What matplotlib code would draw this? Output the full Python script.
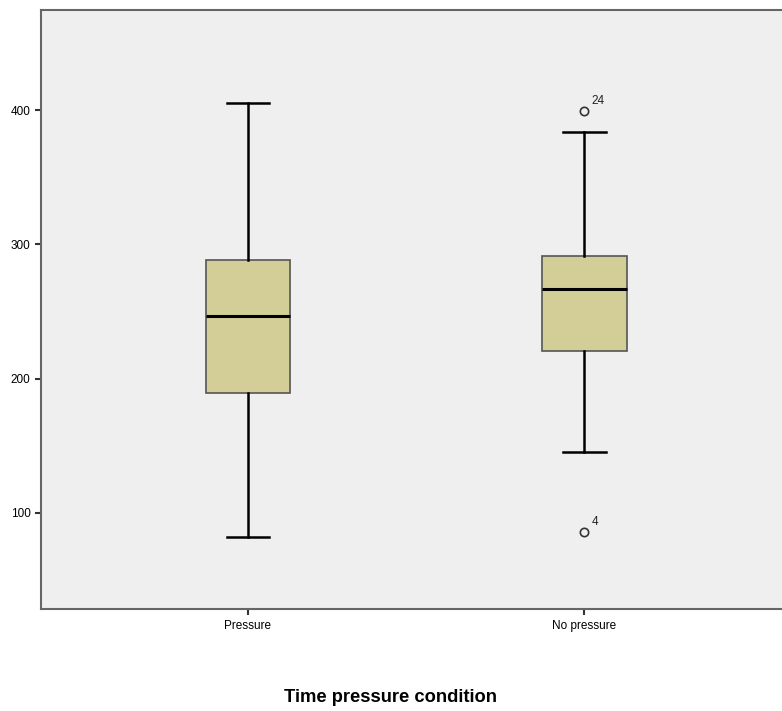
import matplotlib.pyplot as plt

plt.rcParams['font.family'] = ['Liberation Sans', 'DejaVu Sans']

# group summaries
groups = ['Pressure', 'No pressure']
whislo = [82, 145.5]
q1 = [189.5, 220.5]
med = [246.5, 266.5]
q3 = [288, 291]
whishi = [405, 384]
outliers = [[], [399, 86]]
outlier_ids = [[], ['24', '4']]

stats = []
for i, g in enumerate(groups):
    stats.append({'label': g, 'whislo': whislo[i], 'q1': q1[i], 'med': med[i],
                  'q3': q3[i], 'whishi': whishi[i], 'fliers': outliers[i]})

fig = plt.figure(figsize=(7.82, 7.11), dpi=100)
ax = fig.add_axes([41 / 782, 1 - 609 / 711, 1 - 41 / 782, (609 - 10) / 711])
ax.set_facecolor('#efefef')

ax.bxp(stats, positions=[1, 2], widths=0.252, patch_artist=True,
       boxprops=dict(facecolor='#d3ce97', edgecolor='#555555', linewidth=1.2),
       medianprops=dict(color='black', linewidth=2.2),
       whiskerprops=dict(color='black', linewidth=1.8),
       capprops=dict(color='black', linewidth=1.8),
       capwidths=0.126,
       flierprops=dict(marker='o', markersize=6, markerfacecolor='none',
                       markeredgecolor='#333333', markeredgewidth=1.2))

for i, (vals, ids) in enumerate(zip(outliers, outlier_ids)):
    for v, t in zip(vals, ids):
        ax.annotate(t, (i + 1, v), xytext=(5, 5), textcoords='offset points',
                    fontsize=8.5, color='#222222')

ax.set_xlim(0.385, 2.587)
ax.set_ylim(28.5, 474.5)
ax.set_yticks([100, 200, 300, 400])
ax.tick_params(axis='both', labelsize=8.5, color='#333333', width=1.5, length=4)
ax.tick_params(axis='x', pad=4)

for side in ['left', 'bottom', 'top']:
    ax.spines[side].set_color('#666666')
    ax.spines[side].set_linewidth(1.5)
ax.spines['right'].set_visible(False)

fig.text(0.5, 1 - 697 / 711, 'Time pressure condition', ha='center', va='center',
         fontsize=13.2, fontweight='bold')

fig.savefig('out.png', dpi=100)
